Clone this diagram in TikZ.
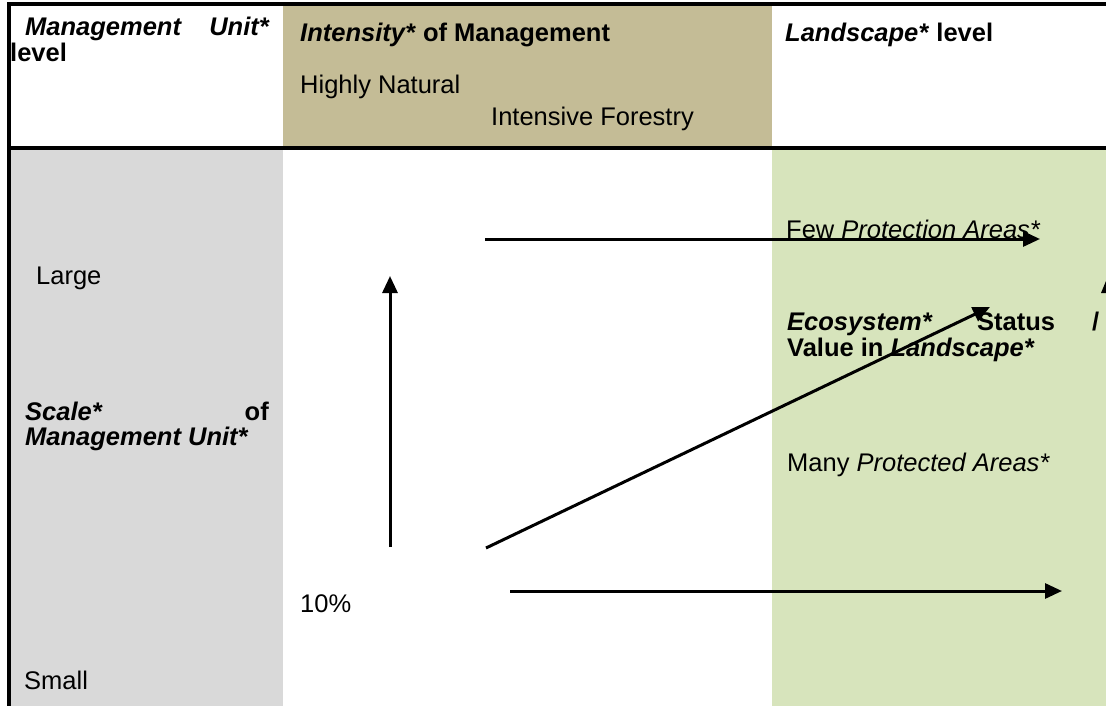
\documentclass[tikz,border=0pt]{standalone}
\usepackage{fontspec}
\setmainfont{Liberation Sans}
\usetikzlibrary{arrows.meta}
\definecolor{tanbg}{HTML}{C4BC96}
\definecolor{graybg}{HTML}{D9D9D9}
\definecolor{greenbg}{HTML}{D7E4BC}
\begin{document}
\begin{tikzpicture}[x=1pt,y=-1pt,
  txt/.style={anchor=base west, inner sep=0pt, font=\fontsize{25.5}{29}\selectfont},
  txtr/.style={txt, anchor=base east},
  arr/.style={line width=3pt, -{Triangle[length=17pt,width=15pt]}},
  rulel/.style={line width=3.5pt}]
\useasboundingbox (0,0) rectangle (1106,706);
\fill[white] (0,0) rectangle (1106,706);
\fill[tanbg] (283,5) rectangle (772,148);
\fill[graybg] (9,148) rectangle (283,706);
\fill[greenbg] (772,148) rectangle (1106,706);
\draw[rulel] (7,4) -- (1106,4);
\draw[rulel] (9,4) -- (9,706);
\draw[rulel] (9,148) -- (1106,148);
% header
\node[txt] (mu1) at (25,36) {\textbf{\textit{Management}}};
\node[txtr] (mu2) at (270,36) {\textbf{\textit{Unit*}}};
\node[txt] (mu3) at (10,62) {\textbf{level}};
\node[txt] (int) at (300,42) {\textbf{\textit{Intensity*} of Management}};
\node[txt] (hn) at (300,94) {Highly Natural};
\node[txt] (if) at (491,126) {Intensive Forestry};
\node[txt] (ll) at (785,42) {\textbf{\textit{Landscape*} level}};
% left column
\node[txt] (large) at (36,284) {Large};
\node[txt] (sc1) at (25,420) {\textbf{\textit{Scale*}}};
\node[txtr] (sc2) at (269,420) {\textbf{of}};
\node[txt] (sc3) at (25,445) {\textbf{\textit{Management Unit*}}};
\node[txt] (small) at (24,689) {Small};
% middle
\node[txt] (pct) at (300,612) {10\%};
% right column
\node[txt] (few) at (786,238) {Few \textit{Protection Areas*}};
\node[txt] (es1) at (787,330) {\textbf{\textit{Ecosystem*}}};
\node[txt] (es2) at (977,330) {\textbf{Status}};
\node[txt] (es3) at (1092,330) {\textbf{/}};
\node[txt] (es4) at (787,356) {\textbf{Value in \textit{Landscape*}}};
\node[txt] (many) at (787,471) {Many \textit{Protected Areas*}};
% arrows
\coordinate (v0) at (390,547); \coordinate (v1) at (390,276);
\coordinate (t0) at (485,239); \coordinate (t1) at (1040,239);
\coordinate (d0) at (486,548); \coordinate (d1) at (990,307);
\coordinate (b0) at (510,591); \coordinate (b1) at (1062,591);
\draw[arr] (v0) -- (v1);
\draw[arr] (t0) -- (t1);
\draw[arr] (d0) -- (d1);
\draw[arr] (b0) -- (b1);
\fill (1101,293) -- (1106,281) -- (1106,293) -- cycle;
\end{tikzpicture}
\end{document}
